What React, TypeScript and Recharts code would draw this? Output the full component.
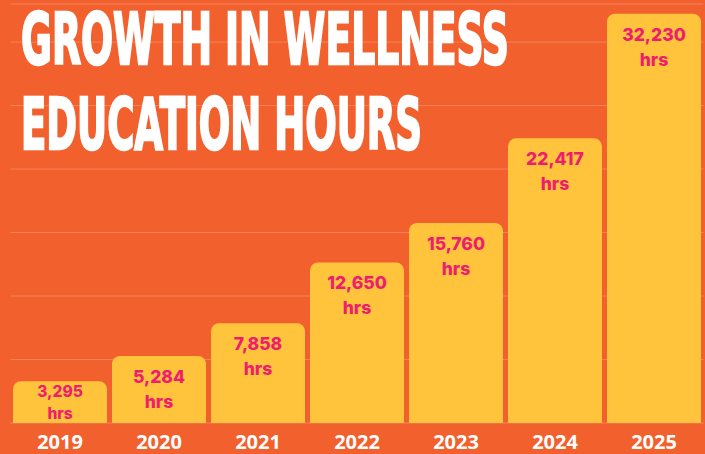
import { Bar, BarChart, CartesianGrid, LabelList, XAxis, YAxis } from "recharts";

const years = ["2019", "2020", "2021", "2022", "2023", "2024", "2025"];
const hours = [3295, 5284, 7858, 12650, 15760, 22417, 32230];
const gridTicks = [5000, 10000, 15000, 20000, 25000, 30000];
const titleLines = ["GROWTH IN WELLNESS", "EDUCATION HOURS"];

const BG = "#F2602D";
const BAR = "#FFC33C";
const PINK = "#EE1E6E";

const data = years.map((year, i) => ({ year, hours: hours[i] }));

// two-line "N hrs" label; short bars get a smaller block centred in the bar
function HoursLabel(props: any) {
  const { x, y, width, height, value } = props;
  const cx = x + width / 2;
  const small = height < 60;
  const fs = small ? 15.5 : 17.5;
  const gap = small ? 22 : 25;
  const capH = fs * 0.73;
  const offset = Math.min(27, (height - capH - gap) / 2 + capH);
  const base = y + offset;
  return (
    <g fontFamily="Inter, 'Open Sans', sans-serif" fontWeight={800} fontSize={fs} fill={PINK} textAnchor="middle">
      <text x={cx} y={base}>{Number(value).toLocaleString("en-US")}</text>
      <text x={cx} y={base + gap}>hrs</text>
    </g>
  );
}

export default function App() {
  return (
    <div style={{ position: "absolute", left: 0, top: 0, width: 705, height: 454, background: BG, overflow: "hidden" }}>
      <BarChart
        width={705}
        height={454}
        data={data}
        margin={{ top: 4, right: 1.5, bottom: 0, left: 10.5 }}
        barCategoryGap={2.5}
      >
        <CartesianGrid horizontal vertical={false} stroke="rgba(255,255,255,0.22)" strokeWidth={1} />
        <XAxis
          dataKey="year"
          height={31}
          tickLine={false}
          axisLine={false}
          tickSize={0}
          tickMargin={12}
          interval={0}
          tick={{ fill: "#ffffff", fontSize: 20, fontWeight: 700, fontFamily: "'Open Sans', sans-serif" }}
        />
        <YAxis hide domain={[0, 33000]} ticks={gridTicks} />
        <Bar dataKey="hours" fill={BAR} radius={[8, 8, 0, 0]} isAnimationActive={false}>
          <LabelList dataKey="hours" content={HoursLabel} />
        </Bar>
      </BarChart>
      <svg width={705} height={454} style={{ position: "absolute", left: 0, top: 0, pointerEvents: "none" }}>
        <g
          fill="#ffffff"
          stroke="#ffffff"
          strokeWidth={2.5}
          strokeLinejoin="miter"
          fontFamily="'Liberation Sans Narrow', 'DejaVu Sans Condensed', sans-serif"
          fontWeight={700}
          fontSize={72}
        >
          <text x={21} y={64} textLength={488} lengthAdjust="spacingAndGlyphs">{titleLines[0]}</text>
          <text x={21} y={149} textLength={401} lengthAdjust="spacingAndGlyphs">{titleLines[1]}</text>
        </g>
      </svg>
    </div>
  );
}
